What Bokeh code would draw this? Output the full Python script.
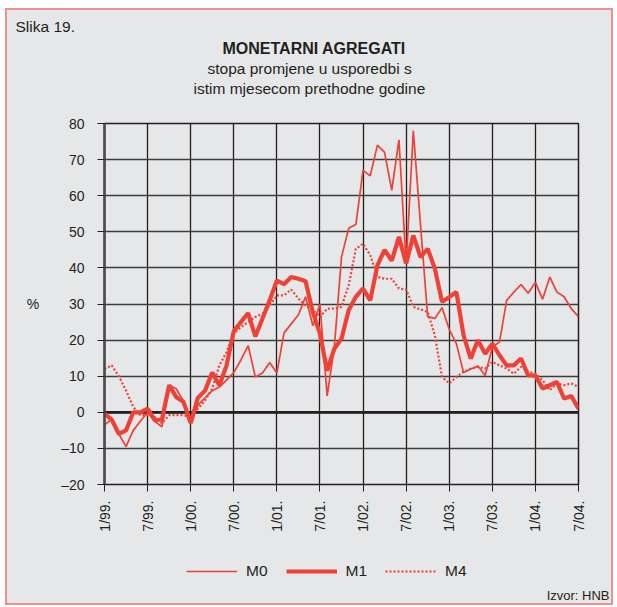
import math
import pandas as pd
from bokeh.plotting import figure
from bokeh.layouts import column
from bokeh.models import Range1d, FixedTicker, Span, Legend, LegendItem, Title
from bokeh.embed import file_html
from bokeh.resources import INLINE

# ---------------- data ----------------
months = pd.period_range("1999-01", "2004-07", freq="M")
x = list(range(len(months)))

tick_labels = ["1/99.", "7/99.", "1/00.", "7/00.", "1/01.", "7/01.",
               "1/02.", "7/02.", "1/03.", "7/03.", "1/04.", "7/04."]

m0 = [-3.5, -2, -6, -9.5, -5, -2.5, 0, -2.5, -4, 7.5, 6.5, 3,
      -3, 2, 4, 6, 7, 9, 11, 14.5, 18.5, 9.8, 10.9, 13.8,
      10.9, 22, 24.5, 27, 32, 24, 30, 4.5, 18, 43, 51, 52,
      67, 65.5, 74, 72, 61.5, 75.5, 41, 78, 52, 26.5, 26, 29,
      23, 19, 11, 12, 12.8, 10.2, 18, 19.5, 31, 33.3, 35.4, 33,
      36, 31.3, 37.5, 33.3, 32, 28.7, 26.5]

m1 = [-0.4, -2, -6, -5, 0, 0, 1, -2.2, -2, 7.5, 4.2, 2.9,
      -3, 4, 6, 11, 7.5, 13, 22.5, 25, 27.5, 21, 26, 31,
      36.5, 35.5, 37.5, 37, 36.3, 27.8, 21.8, 11.5, 17.6, 20.4, 28.3, 32,
      34.3, 31, 40.7, 45, 42, 48.6, 41.2, 49, 43, 45.3, 39.8, 30.6,
      31.9, 33.3, 21.3, 14.9, 20, 16.2, 19, 15.8, 13, 13, 14.9, 10.2,
      10.2, 6.6, 7.5, 8.4, 3.8, 4.5, 1]

m4 = [12, 13, 10, 6, 1.5, -0.8, -0.8, -1.3, -3, -0.8, -0.8, -0.8,
      -1.3, 1, 3.3, 6.6, 13, 16.7, 21.8, 23.6, 25, 26.4, 27.3, 29.6,
      32.4, 32.4, 34, 31.5, 29.6, 28.3, 26.4, 28.7, 28.7, 29.2, 35.2, 45.3,
      46.7, 43.5, 37.5, 37, 37, 34.3, 34, 29.2, 28.5, 27.8, 21.3, 9.8,
      8, 9.8, 11.2, 12.1, 12.6, 12.1, 14, 13, 12.1, 10.7, 12.6, 11.2,
      10.7, 8.9, 6.1, 8, 7.5, 8, 7]

y_ticks = list(range(-20, 81, 10))
series = {"M0": m0, "M1": m1, "M4": m4}

# ---------------- style ----------------
BG = "#e6e7e8"
RED = "#ef4136"
INK = "#231f20"
FONT = "Liberation Sans"
W = 604
H_MAIN, H_FOOT = 524, 69
BL, BR = 97, 33

STYLES = {
    "M0": dict(line_color=RED, line_width=1.7),
    "M1": dict(line_color=RED, line_width=4.2),
    "M4": dict(line_color=RED, line_width=2.2, line_dash="2 2"),
}

x_ticks = [x[i] for i in range(0, len(x), 6)]

# ---------- main chart ----------
p = figure(width=W, height=H_MAIN, output_backend="svg", toolbar_location=None,
           x_range=Range1d(x[0], x[-1]), y_range=Range1d(-20, 80),
           min_border_left=BL, min_border_right=BR,
           min_border_top=113, min_border_bottom=50)
p.background_fill_color = BG
p.border_fill_color = BG
p.outline_line_color = INK
p.outline_line_width = 1.5


def make_title(text, offset, style="normal", size="15.5px", standoff=1.2):
    return Title(text=text, align="left", vertical_align="middle", text_font=FONT,
                 text_font_style=style, text_font_size=size, text_color=INK,
                 standoff=standoff, offset=offset)

# header: outermost is the plot title, others stack outward from the frame
p.title = make_title("Slika 19.", offset=-89, standoff=5.95)
p.add_layout(make_title(" ", offset=0, standoff=6.45), "above")
p.add_layout(make_title("istim mjesecom prethodne godine", offset=89), "above")
p.add_layout(make_title("stopa promjene u usporedbi s", offset=103), "above")
p.add_layout(make_title("MONETARNI AGREGATI", offset=118, style="bold", size="16px",
                        standoff=1.1), "above")

p.xaxis.ticker = FixedTicker(ticks=x_ticks)
p.xaxis.major_label_overrides = {t: lab for t, lab in zip(x_ticks, tick_labels)}
p.xaxis.major_label_orientation = math.pi / 2
p.xaxis.major_tick_out = 7
p.xaxis.major_tick_in = 0
p.xaxis.minor_tick_line_color = None
p.xaxis.axis_line_color = INK
p.xaxis.major_tick_line_color = INK
p.xaxis.major_label_standoff = 9
p.xaxis.major_label_text_font = FONT
p.xaxis.major_label_text_font_size = "14px"
p.xaxis.major_label_text_color = INK

p.yaxis.ticker = FixedTicker(ticks=y_ticks)
p.yaxis.major_label_overrides = {t: (("\u2013" + str(-t)) if t < 0 else str(t)) for t in y_ticks}
p.yaxis.major_tick_out = 7
p.yaxis.major_tick_in = 0
p.yaxis.minor_tick_line_color = None
p.yaxis.axis_line_color = "#4a4a4a"
p.yaxis.axis_line_width = 2.5
p.yaxis.major_tick_line_color = INK
p.yaxis.major_label_standoff = 13
p.yaxis.major_label_text_font = FONT
p.yaxis.major_label_text_font_size = "14px"
p.yaxis.major_label_text_color = INK
p.yaxis.axis_label = "%"
p.yaxis.axis_label_orientation = "horizontal"
p.yaxis.axis_label_standoff = 19
p.yaxis.axis_label_text_font = FONT
p.yaxis.axis_label_text_font_style = "normal"
p.yaxis.axis_label_text_font_size = "14px"
p.yaxis.axis_label_text_color = INK

p.xgrid.ticker = FixedTicker(ticks=x_ticks)
p.xgrid.grid_line_color = INK
p.xgrid.grid_line_width = 1.3
p.ygrid.ticker = FixedTicker(ticks=y_ticks)
p.ygrid.grid_line_color = "#3c3c3c"
p.ygrid.grid_line_width = 1.6

p.add_layout(Span(location=0, dimension="width", line_color=INK,
                  line_width=2.8, level="underlay"))

for name, vals in series.items():
    p.line(x, vals, **STYLES[name])

# ---------- footer: legend + source ----------
# x range lies beyond the data, so these proxy lines stay out of view
foot = figure(width=W, height=H_FOOT, output_backend="svg", toolbar_location=None,
              x_range=Range1d(104, 578), y_range=Range1d(52.5, 0),
              x_axis_type=None, y_axis_type=None,
              min_border_left=BL, min_border_right=BR,
              min_border_top=0, min_border_bottom=0)
foot.background_fill_color = BG
foot.border_fill_color = BG
foot.outline_line_color = None
foot.grid.visible = False
foot.title = None

items = []
for name, vals in series.items():
    r = foot.line(x, vals, **STYLES[name])
    items.append(LegendItem(label=name, renderers=[r]))
legend = Legend(items=items, orientation="horizontal", location=(82, 6.5),
                glyph_width=51, glyph_height=16, label_height=16,
                label_standoff=9, spacing=18, padding=0, margin=0,
                border_line_color=None, background_fill_alpha=0,
                label_text_font=FONT, label_text_font_size="15.5px",
                label_text_color=INK)
foot.add_layout(legend, "center")
foot.add_layout(Title(text="Izvor: HNB", align="right", vertical_align="middle",
                      text_font=FONT, text_font_style="normal", text_font_size="13px",
                      text_color=INK, standoff=0, offset=-31), "below")

layout = column(p, foot, spacing=0, width=608, height=597,
                styles={"border": "2px solid #f0908a", "margin-left": "5px",
                        "margin-top": "8px", "background-color": BG})

open("out.html", "w").write(file_html(layout, INLINE))
